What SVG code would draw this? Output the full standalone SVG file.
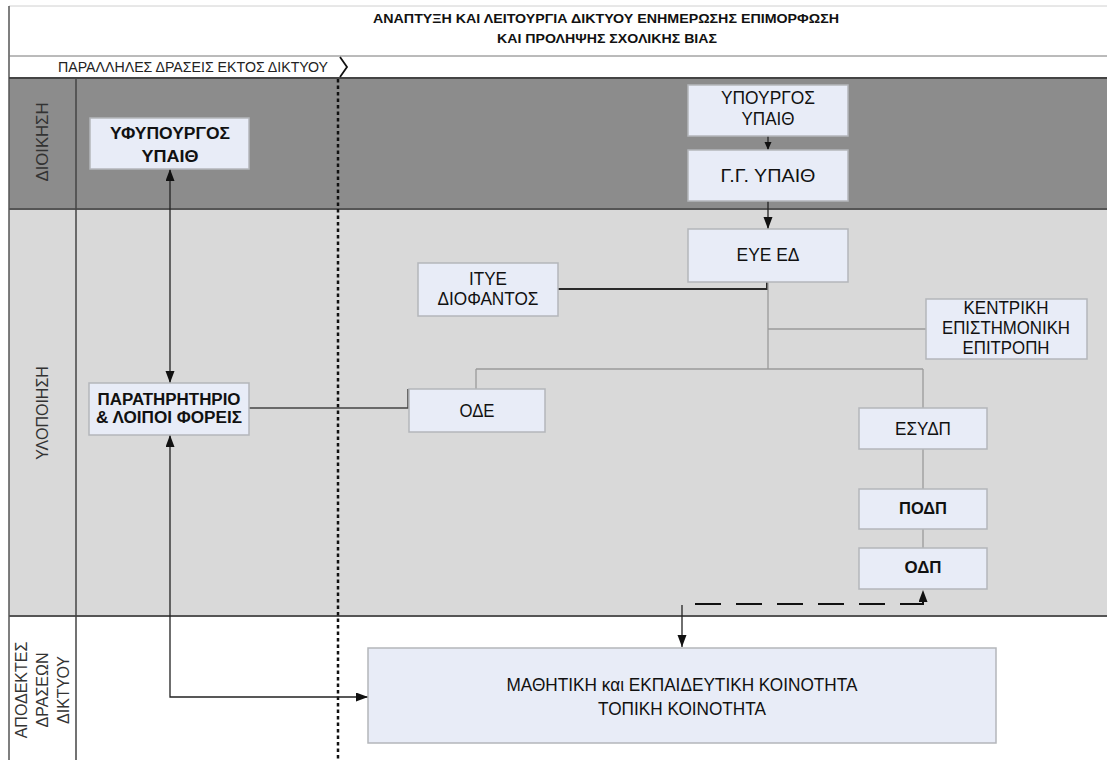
<svg xmlns="http://www.w3.org/2000/svg" width="1107" height="760" viewBox="0 0 1107 760">
<style>
.box{fill:#e8ecf7;stroke:#b4b6bb;stroke-width:1.5}
.nar{font-family:"Liberation Sans Narrow","Arial Narrow","Liberation Sans",Arial,sans-serif;font-size:17.5px;fill:#111;text-anchor:middle}
.bld{font-family:"Liberation Sans",Arial,sans-serif;font-size:16px;font-weight:bold;fill:#111;text-anchor:middle}
.lbl{font-family:"Liberation Sans",Arial,sans-serif;font-size:16px;fill:#333;text-anchor:middle}
.tree{fill:none;stroke:#9a9a9a;stroke-width:1.3}
.ln{fill:none;stroke:#222;stroke-width:1.3}
</style>
<defs>
<marker id="ah" markerUnits="userSpaceOnUse" markerWidth="13" markerHeight="10" refX="12" refY="4.5" orient="auto-start-reverse"><path d="M0,0 L12,4.5 L0,9 z" fill="#111"/></marker>
<marker id="as" markerUnits="userSpaceOnUse" markerWidth="9" markerHeight="8" refX="8" refY="3.5" orient="auto"><path d="M0,0 L8,3.5 L0,7 z" fill="#111"/></marker>
</defs>
<g id="background">
<rect x="0" y="0" width="1107" height="760" fill="#ffffff"/>
<rect x="9" y="78" width="1098" height="131" fill="#8c8c8c"/>
<rect x="9" y="209" width="1098" height="407" fill="#d9d9d9"/>
<line x1="9" y1="6" x2="1107" y2="6" stroke="#d0d0d0" stroke-width="1"/>
<line x1="9" y1="6" x2="9" y2="760" stroke="#555" stroke-width="1.5"/>
<line x1="9" y1="56" x2="1107" y2="56" stroke="#777" stroke-width="1"/>
<line x1="9" y1="78" x2="1107" y2="78" stroke="#444" stroke-width="2"/>
<line x1="9" y1="209" x2="1107" y2="209" stroke="#555" stroke-width="2"/>
<line x1="9" y1="616" x2="1107" y2="616" stroke="#555" stroke-width="2"/>
<line x1="76" y1="78" x2="76" y2="760" stroke="#444" stroke-width="1.5"/>
<path d="M340,57 L347,67 L340,77" fill="none" stroke="#111" stroke-width="1.8"/>
<line x1="338" y1="79" x2="338" y2="760" stroke="#111" stroke-width="2.5" stroke-dasharray="3.5,3"/>
</g>
<g id="title">
<text x="606" y="23" font-family="Liberation Sans,Arial,sans-serif" font-size="13.5" font-weight="bold" fill="#111" text-anchor="middle" textLength="466" lengthAdjust="spacingAndGlyphs">ΑΝΑΠΤΥΞΗ ΚΑΙ ΛΕΙΤΟΥΡΓΙΑ ΔΙΚΤΥΟΥ ΕΝΗΜΕΡΩΣΗΣ ΕΠΙΜΟΡΦΩΣΗ</text>
<text x="607" y="43" font-family="Liberation Sans,Arial,sans-serif" font-size="13.5" font-weight="bold" fill="#111" text-anchor="middle" textLength="220" lengthAdjust="spacingAndGlyphs">ΚΑΙ ΠΡΟΛΗΨΗΣ ΣΧΟΛΙΚΗΣ ΒΙΑΣ</text>
<text x="193" y="72" font-family="Liberation Sans,Arial,sans-serif" font-size="14" fill="#222" text-anchor="middle" textLength="270" lengthAdjust="spacingAndGlyphs">ΠΑΡΑΛΛΗΛΕΣ ΔΡΑΣΕΙΣ ΕΚΤΟΣ ΔΙΚΤΥΟΥ</text>
</g>
<g id="lane-labels">
<text class="lbl" transform="translate(42,142) rotate(-90)" y="6" textLength="79" lengthAdjust="spacingAndGlyphs">ΔΙΟΙΚΗΣΗ</text>
<text class="lbl" transform="translate(42,413) rotate(-90)" y="6">ΥΛΟΠΟΙΗΣΗ</text>
<g transform="translate(42,690) rotate(-90)">
<text class="lbl" x="0" y="-15">ΑΠΟΔΕΚΤΕΣ</text>
<text class="lbl" x="0" y="6">ΔΡΑΣΕΩΝ</text>
<text class="lbl" x="0" y="27">ΔΙΚΤΥΟΥ</text>
</g>
</g>
<g id="connectors">
<line class="ln" x1="170" y1="169" x2="170" y2="383" marker-start="url(#ah)" marker-end="url(#ah)"/>
<path class="ln" d="M170,435 V697 H368" marker-start="url(#ah)" marker-end="url(#ah)"/>
<line class="ln" x1="768" y1="136" x2="768" y2="150" marker-end="url(#as)"/>
<line class="ln" x1="768" y1="201" x2="768" y2="229" marker-end="url(#ah)"/>
<path d="M558,289 H767 V282" fill="none" stroke="#2a2a2a" stroke-width="2"/>
<path class="tree" d="M768,282 V369 M768,329 H926 M476,369 H923 M476,369 V389 M923,369 V408 M923,449 V489 M923,529 V548"/>
<path d="M249,408 H408 V389" fill="none" stroke="#444" stroke-width="1.5"/>
<path d="M695,604 H923 V590" fill="none" stroke="#111" stroke-width="2" stroke-dasharray="26,15" marker-end="url(#ah)"/>
<line class="ln" x1="682" y1="605" x2="682" y2="647" marker-end="url(#ah)"/>
</g>
<g id="node-yfypourgos">
<rect class="box" x="90" y="118" width="159" height="51"/>
<text class="bld" x="170" y="139" textLength="120" lengthAdjust="spacingAndGlyphs">ΥΦΥΠΟΥΡΓΟΣ</text>
<text class="bld" x="170" y="162" textLength="57" lengthAdjust="spacingAndGlyphs">ΥΠΑΙΘ</text>
</g>
<g id="node-ypourgos">
<rect class="box" x="688" y="85" width="160" height="51"/>
<text class="nar" x="768" y="104" textLength="94" lengthAdjust="spacingAndGlyphs">ΥΠΟΥΡΓΟΣ</text>
<text class="nar" x="768" y="125" textLength="53" lengthAdjust="spacingAndGlyphs">ΥΠΑΙΘ</text>
</g>
<g id="node-gg">
<rect class="box" x="688" y="150" width="160" height="51"/>
<text class="nar" x="768" y="182" textLength="95" lengthAdjust="spacingAndGlyphs">Γ.Γ. ΥΠΑΙΘ</text>
</g>
<g id="node-eye">
<rect class="box" x="688" y="229" width="160" height="53"/>
<text class="nar" x="768" y="261" textLength="63" lengthAdjust="spacingAndGlyphs">ΕΥΕ ΕΔ</text>
</g>
<g id="node-itye">
<rect class="box" x="418" y="263" width="140" height="53"/>
<text class="nar" x="488" y="285" textLength="38" lengthAdjust="spacingAndGlyphs">ΙΤΥΕ</text>
<text class="nar" x="488" y="305" textLength="101" lengthAdjust="spacingAndGlyphs">ΔΙΟΦΑΝΤΟΣ</text>
</g>
<g id="node-kentriki">
<rect class="box" x="926" y="299" width="161" height="60"/>
<text class="nar" x="1006" y="314" textLength="85" lengthAdjust="spacingAndGlyphs">ΚΕΝΤΡΙΚΗ</text>
<text class="nar" x="1006" y="334" textLength="128" lengthAdjust="spacingAndGlyphs">ΕΠΙΣΤΗΜΟΝΙΚΗ</text>
<text class="nar" x="1006" y="354" textLength="87" lengthAdjust="spacingAndGlyphs">ΕΠΙΤΡΟΠΗ</text>
</g>
<g id="node-paratiritirio">
<rect class="box" x="89" y="383" width="160" height="52"/>
<text class="bld" x="169" y="405" textLength="143" lengthAdjust="spacingAndGlyphs">ΠΑΡΑΤΗΡΗΤΗΡΙΟ</text>
<text class="bld" x="169" y="423" textLength="146" lengthAdjust="spacingAndGlyphs">&amp; ΛΟΙΠΟΙ ΦΟΡΕΙΣ</text>
</g>
<g id="node-ode">
<rect class="box" x="409" y="389" width="136" height="43"/>
<text class="nar" x="477" y="417" textLength="35" lengthAdjust="spacingAndGlyphs">ΟΔΕ</text>
</g>
<g id="node-esydp">
<rect class="box" x="859" y="408" width="128" height="41"/>
<text class="nar" x="923" y="435" textLength="56" lengthAdjust="spacingAndGlyphs">ΕΣΥΔΠ</text>
</g>
<g id="node-podp">
<rect class="box" x="859" y="489" width="128" height="40"/>
<text class="bld" x="923" y="514" font-size="15" textLength="48" lengthAdjust="spacingAndGlyphs">ΠΟΔΠ</text>
</g>
<g id="node-odp">
<rect class="box" x="859" y="548" width="128" height="41"/>
<text class="bld" x="923" y="573" font-size="15" textLength="37" lengthAdjust="spacingAndGlyphs">ΟΔΠ</text>
</g>
<g id="node-koinotita">
<rect class="box" x="368" y="648" width="628" height="95"/>
<text class="nar" x="682" y="691" textLength="351" lengthAdjust="spacingAndGlyphs">ΜΑΘΗΤΙΚΗ και ΕΚΠΑΙΔΕΥΤΙΚΗ ΚΟΙΝΟΤΗΤΑ</text>
<text class="nar" x="682" y="715" textLength="168" lengthAdjust="spacingAndGlyphs">ΤΟΠΙΚΗ ΚΟΙΝΟΤΗΤΑ</text>
</g>
</svg>
